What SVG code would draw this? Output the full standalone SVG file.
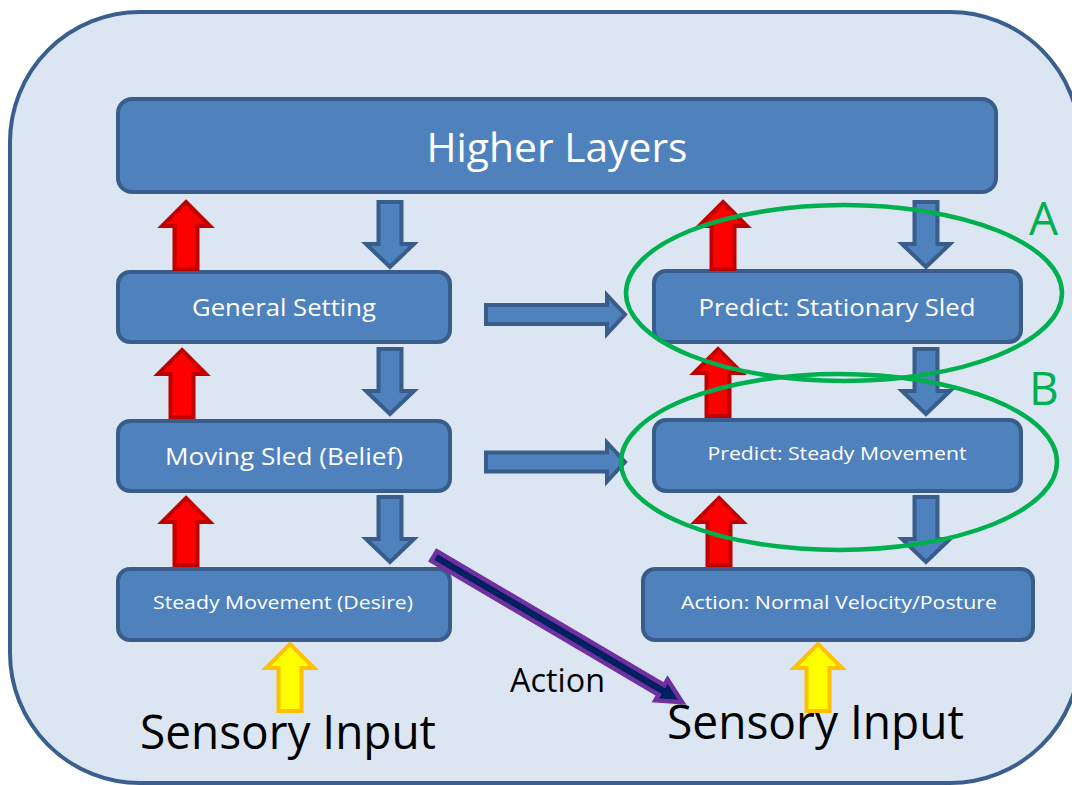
<svg xmlns="http://www.w3.org/2000/svg" width="1072" height="785" viewBox="0 0 1072 785">
<defs>
<style>
.box{fill:#4f81bd;stroke:#385d8a;stroke-width:4}
.lbl{fill:#ffffff;font-family:"Open Sans","Liberation Sans",sans-serif;text-anchor:middle}
.red{fill:#ff0000;stroke:#c00000;stroke-width:4}
.blue{fill:#4f81bd;stroke:#385d8a;stroke-width:4}
.yel{fill:#ffff00;stroke:#ffc000;stroke-width:4}
.ell{fill:none;stroke:#00b050;stroke-width:4.5}
.big{fill:#000000;font-family:"Open Sans","Liberation Sans",sans-serif}
.grn{fill:#00b050;font-family:"Open Sans","Liberation Sans",sans-serif;font-size:46px}
</style>
<path id="up" d="M0,0 L24,24 L11.5,24 L11.5,67 L-11.5,67 L-11.5,24 L-24,24 Z"/>
<path id="down" d="M-11.5,0 L11.5,0 L11.5,42 L24,42 L0,65 L-24,42 L-11.5,42 Z"/>
<path id="right" d="M0,-9.5 L121,-9.5 L121,-19.5 L139,0 L121,19.5 L121,9.5 L0,9.5 Z"/>
</defs>
<rect x="10" y="12" width="1070" height="771" rx="130" ry="130" fill="#dce6f2" stroke="#3a5f8f" stroke-width="4"/>

<g id="higher-layers">
<rect class="box" x="118" y="99" width="878" height="93" rx="14"/>
<text class="lbl" x="557" y="162" font-size="41" textLength="261" lengthAdjust="spacingAndGlyphs">Higher Layers</text>
</g>
<g id="general-setting">
<rect class="box" x="118" y="272" width="332" height="70" rx="12"/>
<text class="lbl" x="284" y="316" font-size="24" textLength="184" lengthAdjust="spacingAndGlyphs">General Setting</text>
</g>
<g id="moving-sled">
<rect class="box" x="118" y="421" width="332" height="70" rx="12"/>
<text class="lbl" x="284" y="465" font-size="24" textLength="238" lengthAdjust="spacingAndGlyphs">Moving Sled (Belief)</text>
</g>
<g id="steady-movement-desire">
<rect class="box" x="118" y="569" width="332" height="71" rx="12"/>
<text class="lbl" x="283" y="609" font-size="19" textLength="260" lengthAdjust="spacingAndGlyphs">Steady Movement (Desire)</text>
</g>
<g id="predict-stationary">
<rect class="box" x="654" y="271" width="367" height="71" rx="12"/>
<text class="lbl" x="837" y="316" font-size="24" textLength="277" lengthAdjust="spacingAndGlyphs">Predict: Stationary Sled</text>
</g>
<g id="predict-steady">
<rect class="box" x="654" y="420" width="367" height="71" rx="12"/>
<text class="lbl" x="837" y="460" font-size="19" textLength="259" lengthAdjust="spacingAndGlyphs">Predict: Steady Movement</text>
</g>
<g id="action-normal">
<rect class="box" x="643" y="569" width="390" height="71" rx="12"/>
<text class="lbl" x="839" y="609" font-size="19" textLength="316" lengthAdjust="spacingAndGlyphs">Action: Normal Velocity/Posture</text>
</g>

<g id="connectors">
<use href="#up" class="red" x="186" y="202"/>
<use href="#up" class="red" x="182" y="350"/>
<use href="#up" class="red" x="186" y="498"/>
<use href="#up" class="red" x="723" y="202"/>
<use href="#up" class="red" x="718" y="349"/>
<use href="#up" class="red" x="719" y="498"/>
<use href="#down" class="blue" x="390" y="202"/>
<use href="#down" class="blue" x="390" y="349"/>
<use href="#down" class="blue" x="390" y="497"/>
<use href="#down" class="blue" x="926" y="202"/>
<use href="#down" class="blue" x="926" y="349"/>
<use href="#down" class="blue" x="926" y="497"/>
<use href="#up" class="yel" x="290" y="644"/>
<use href="#up" class="yel" x="818" y="644"/>
<use href="#right" class="blue" x="486" y="314.5"/>
<use href="#right" class="blue" x="486" y="462"/>
<path d="M0,-5.5 L264,-5.5 L264,-12 L288,0 L264,12 L264,5.5 L0,5.5 Z" transform="translate(434,556) rotate(30.5)" fill="#002060" stroke="#7030a0" stroke-width="4.5"/>
</g>

<g id="annotations">
<ellipse class="ell" cx="844" cy="293" rx="218" ry="88"/>
<ellipse class="ell" cx="839" cy="462" rx="218" ry="88"/>
<text class="grn" x="1029" y="235">A</text>
<text class="grn" x="1029" y="405">B</text>
<text class="big" x="510" y="692" font-size="33" textLength="95" lengthAdjust="spacingAndGlyphs">Action</text>
<text class="big" x="140" y="749" font-size="47" textLength="296" lengthAdjust="spacingAndGlyphs">Sensory Input</text>
<text class="big" x="667" y="739" font-size="47" textLength="297" lengthAdjust="spacingAndGlyphs">Sensory Input</text>
</g>
</svg>
